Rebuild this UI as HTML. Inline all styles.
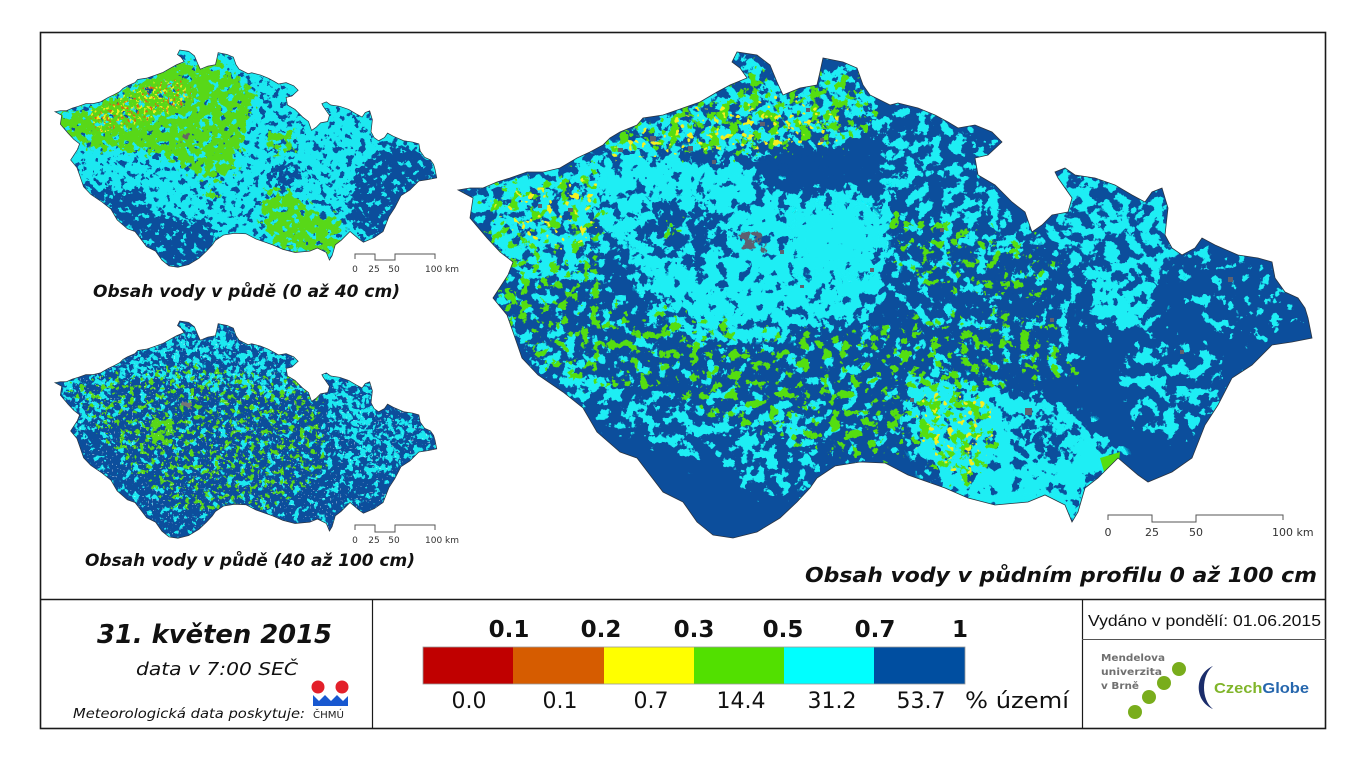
<!DOCTYPE html>
<html><head><meta charset="utf-8">
<style>html,body{margin:0;padding:0;background:#fff}svg{display:block}</style>
</head><body>
<svg xmlns="http://www.w3.org/2000/svg" width="1366" height="763" viewBox="0 0 1366 763">
<defs>
<path id="czp" d="M458,190 L470,188 483,188 497,182 510,178 527,172 543,172 560,168 577,158 590,152 603,145 610,138 620,132 637,125 643,118 663,115 683,108 700,102 717,92 730,85 747,78 740,68 732,62 737,52 757,55 770,65 777,82 783,95 800,88 817,85 820,72 823,58 843,62 857,68 863,85 870,95 890,105 898,103 918,108 935,115 948,122 958,128 975,125 992,132 1002,142 988,155 975,158 978,175 995,185 1012,202 1025,212 1032,232 1042,225 1052,215 1068,212 1072,198 1058,178 1055,172 1065,168 1075,175 1095,178 1115,185 1132,195 1145,202 1152,192 1162,188 1168,208 1165,235 1172,248 1182,255 1195,248 1202,238 1215,245 1238,255 1258,258 1272,262 1275,278 1285,292 1298,298 1305,308 1308,318 1312,338 1292,342 1272,345 1252,365 1232,378 1218,405 1205,425 1192,458 1172,472 1148,482 1138,475 1118,458 1098,478 1085,488 1078,512 1072,522 1065,505 1045,495 1028,502 995,505 968,498 945,488 908,475 885,463 860,462 835,466 817,478 810,488 797,502 780,518 757,532 733,538 713,535 697,522 683,502 663,492 637,458 620,452 597,432 583,408 563,392 538,375 522,358 513,332 507,315 493,298 508,275 513,262 500,252 487,238 470,218 473,198 Z"/>
<clipPath id="cB"><use href="#czp"/></clipPath>
<clipPath id="cT"><use href="#czp" transform="translate(55,50) scale(0.447) translate(-458,-52)"/></clipPath>
<clipPath id="cL"><use href="#czp" transform="translate(55,321) scale(0.447) translate(-458,-52)"/></clipPath>

<!-- big-map speckle filters (blurred zone + noise threshold) -->
<filter id="k15" filterUnits="userSpaceOnUse" x="440" y="40" width="890" height="510" color-interpolation-filters="sRGB"><feGaussianBlur in="SourceGraphic" stdDeviation="6" result="b"/><feComponentTransfer in="b" result="bc"><feFuncA type="linear" slope="50" intercept="0"/></feComponentTransfer><feTurbulence type="fractalNoise" baseFrequency="0.085" numOctaves="4" seed="2" result="n"/><feColorMatrix in="n" type="matrix" values="0 0 0 0 0 0 0 0 0 0 0 0 0 0 0 1 0 0 0 0" result="a"/><feComposite in="a" in2="b" operator="arithmetic" k1="0" k2="1" k3="0.3" k4="0" result="v"/><feComponentTransfer in="v" result="m"><feFuncA type="linear" slope="25" intercept="-22.35"/></feComponentTransfer><feComposite in="bc" in2="m" operator="in"/></filter>
<filter id="k20" filterUnits="userSpaceOnUse" x="440" y="40" width="890" height="510" color-interpolation-filters="sRGB"><feGaussianBlur in="SourceGraphic" stdDeviation="6" result="b"/><feComponentTransfer in="b" result="bc"><feFuncA type="linear" slope="50" intercept="0"/></feComponentTransfer><feTurbulence type="fractalNoise" baseFrequency="0.085" numOctaves="4" seed="3" result="n"/><feColorMatrix in="n" type="matrix" values="0 0 0 0 0 0 0 0 0 0 0 0 0 0 0 1 0 0 0 0" result="a"/><feComposite in="a" in2="b" operator="arithmetic" k1="0" k2="1" k3="0.3" k4="0" result="v"/><feComponentTransfer in="v" result="m"><feFuncA type="linear" slope="25" intercept="-21.8"/></feComponentTransfer><feComposite in="bc" in2="m" operator="in"/></filter>
<filter id="k40" filterUnits="userSpaceOnUse" x="440" y="40" width="890" height="510" color-interpolation-filters="sRGB"><feGaussianBlur in="SourceGraphic" stdDeviation="6" result="b"/><feComponentTransfer in="b" result="bc"><feFuncA type="linear" slope="50" intercept="0"/></feComponentTransfer><feTurbulence type="fractalNoise" baseFrequency="0.085" numOctaves="4" seed="5" result="n"/><feColorMatrix in="n" type="matrix" values="0 0 0 0 0 0 0 0 0 0 0 0 0 0 0 1 0 0 0 0" result="a"/><feComposite in="a" in2="b" operator="arithmetic" k1="0" k2="1" k3="0.3" k4="0" result="v"/><feComponentTransfer in="v" result="m"><feFuncA type="linear" slope="25" intercept="-20.2"/></feComponentTransfer><feComposite in="bc" in2="m" operator="in"/></filter>
<filter id="k55" filterUnits="userSpaceOnUse" x="440" y="40" width="890" height="510" color-interpolation-filters="sRGB"><feGaussianBlur in="SourceGraphic" stdDeviation="6" result="b"/><feComponentTransfer in="b" result="bc"><feFuncA type="linear" slope="50" intercept="0"/></feComponentTransfer><feTurbulence type="fractalNoise" baseFrequency="0.085" numOctaves="4" seed="7" result="n"/><feColorMatrix in="n" type="matrix" values="0 0 0 0 0 0 0 0 0 0 0 0 0 0 0 1 0 0 0 0" result="a"/><feComposite in="a" in2="b" operator="arithmetic" k1="0" k2="1" k3="0.3" k4="0" result="v"/><feComponentTransfer in="v" result="m"><feFuncA type="linear" slope="25" intercept="-19.15"/></feComponentTransfer><feComposite in="bc" in2="m" operator="in"/></filter>
<filter id="k70" filterUnits="userSpaceOnUse" x="440" y="40" width="890" height="510" color-interpolation-filters="sRGB"><feGaussianBlur in="SourceGraphic" stdDeviation="6" result="b"/><feComponentTransfer in="b" result="bc"><feFuncA type="linear" slope="50" intercept="0"/></feComponentTransfer><feTurbulence type="fractalNoise" baseFrequency="0.085" numOctaves="4" seed="8" result="n"/><feColorMatrix in="n" type="matrix" values="0 0 0 0 0 0 0 0 0 0 0 0 0 0 0 1 0 0 0 0" result="a"/><feComposite in="a" in2="b" operator="arithmetic" k1="0" k2="1" k3="0.3" k4="0" result="v"/><feComponentTransfer in="v" result="m"><feFuncA type="linear" slope="25" intercept="-18.05"/></feComponentTransfer><feComposite in="bc" in2="m" operator="in"/></filter>
<filter id="k85" filterUnits="userSpaceOnUse" x="440" y="40" width="890" height="510" color-interpolation-filters="sRGB"><feGaussianBlur in="SourceGraphic" stdDeviation="6" result="b"/><feComponentTransfer in="b" result="bc"><feFuncA type="linear" slope="50" intercept="0"/></feComponentTransfer><feTurbulence type="fractalNoise" baseFrequency="0.085" numOctaves="4" seed="9" result="n"/><feColorMatrix in="n" type="matrix" values="0 0 0 0 0 0 0 0 0 0 0 0 0 0 0 1 0 0 0 0" result="a"/><feComposite in="a" in2="b" operator="arithmetic" k1="0" k2="1" k3="0.3" k4="0" result="v"/><feComponentTransfer in="v" result="m"><feFuncA type="linear" slope="25" intercept="-16.65"/></feComponentTransfer><feComposite in="bc" in2="m" operator="in"/></filter>
<filter id="k92" filterUnits="userSpaceOnUse" x="440" y="40" width="890" height="510" color-interpolation-filters="sRGB"><feGaussianBlur in="SourceGraphic" stdDeviation="6" result="b"/><feComponentTransfer in="b" result="bc"><feFuncA type="linear" slope="50" intercept="0"/></feComponentTransfer><feTurbulence type="fractalNoise" baseFrequency="0.085" numOctaves="4" seed="10" result="n"/><feColorMatrix in="n" type="matrix" values="0 0 0 0 0 0 0 0 0 0 0 0 0 0 0 1 0 0 0 0" result="a"/><feComposite in="a" in2="b" operator="arithmetic" k1="0" k2="1" k3="0.3" k4="0" result="v"/><feComponentTransfer in="v" result="m"><feFuncA type="linear" slope="25" intercept="-15.65"/></feComponentTransfer><feComposite in="bc" in2="m" operator="in"/></filter>
<filter id="g15" filterUnits="userSpaceOnUse" x="440" y="40" width="890" height="510" color-interpolation-filters="sRGB"><feGaussianBlur in="SourceGraphic" stdDeviation="6" result="b"/><feComponentTransfer in="b" result="bc"><feFuncA type="linear" slope="50" intercept="0"/></feComponentTransfer><feTurbulence type="fractalNoise" baseFrequency="0.1" numOctaves="4" seed="11" result="n"/><feColorMatrix in="n" type="matrix" values="0 0 0 0 0 0 0 0 0 0 0 0 0 0 0 1 0 0 0 0" result="a"/><feComposite in="a" in2="b" operator="arithmetic" k1="0" k2="1" k3="0.3" k4="0" result="v"/><feComponentTransfer in="v" result="m"><feFuncA type="linear" slope="25" intercept="-22.35"/></feComponentTransfer><feComposite in="bc" in2="m" operator="in"/></filter>
<filter id="g25" filterUnits="userSpaceOnUse" x="440" y="40" width="890" height="510" color-interpolation-filters="sRGB"><feGaussianBlur in="SourceGraphic" stdDeviation="6" result="b"/><feComponentTransfer in="b" result="bc"><feFuncA type="linear" slope="50" intercept="0"/></feComponentTransfer><feTurbulence type="fractalNoise" baseFrequency="0.1" numOctaves="4" seed="12" result="n"/><feColorMatrix in="n" type="matrix" values="0 0 0 0 0 0 0 0 0 0 0 0 0 0 0 1 0 0 0 0" result="a"/><feComposite in="a" in2="b" operator="arithmetic" k1="0" k2="1" k3="0.3" k4="0" result="v"/><feComponentTransfer in="v" result="m"><feFuncA type="linear" slope="25" intercept="-21.35"/></feComponentTransfer><feComposite in="bc" in2="m" operator="in"/></filter>
<filter id="g55" filterUnits="userSpaceOnUse" x="440" y="40" width="890" height="510" color-interpolation-filters="sRGB"><feGaussianBlur in="SourceGraphic" stdDeviation="3" result="b"/><feComponentTransfer in="b" result="bc"><feFuncA type="linear" slope="50" intercept="0"/></feComponentTransfer><feTurbulence type="fractalNoise" baseFrequency="0.1" numOctaves="4" seed="14" result="n"/><feColorMatrix in="n" type="matrix" values="0 0 0 0 0 0 0 0 0 0 0 0 0 0 0 1 0 0 0 0" result="a"/><feComposite in="a" in2="b" operator="arithmetic" k1="0" k2="1" k3="0.3" k4="0" result="v"/><feComponentTransfer in="v" result="m"><feFuncA type="linear" slope="25" intercept="-19.15"/></feComponentTransfer><feComposite in="bc" in2="m" operator="in"/></filter>
<filter id="y5" filterUnits="userSpaceOnUse" x="440" y="40" width="890" height="510" color-interpolation-filters="sRGB"><feGaussianBlur in="SourceGraphic" stdDeviation="6" result="b"/><feComponentTransfer in="b" result="bc"><feFuncA type="linear" slope="50" intercept="0"/></feComponentTransfer><feTurbulence type="fractalNoise" baseFrequency="0.15" numOctaves="2" seed="15" result="n"/><feColorMatrix in="n" type="matrix" values="0 0 0 0 0 0 0 0 0 0 0 0 0 0 0 1 0 0 0 0" result="a"/><feComposite in="a" in2="b" operator="arithmetic" k1="0" k2="1" k3="0.3" k4="0" result="v"/><feComponentTransfer in="v" result="m"><feFuncA type="linear" slope="25" intercept="-23.6"/></feComponentTransfer><feComposite in="bc" in2="m" operator="in"/></filter>

<!-- small-map speckle filters -->
<filter id="s15" filterUnits="userSpaceOnUse" x="40" y="40" width="420" height="520" color-interpolation-filters="sRGB"><feGaussianBlur in="SourceGraphic" stdDeviation="3" result="b"/><feComponentTransfer in="b" result="bc"><feFuncA type="linear" slope="50" intercept="0"/></feComponentTransfer><feTurbulence type="fractalNoise" baseFrequency="0.15" numOctaves="3" seed="21" result="n"/><feColorMatrix in="n" type="matrix" values="0 0 0 0 0 0 0 0 0 0 0 0 0 0 0 1 0 0 0 0" result="a"/><feComposite in="a" in2="b" operator="arithmetic" k1="0" k2="1" k3="0.3" k4="0" result="v"/><feComponentTransfer in="v" result="m"><feFuncA type="linear" slope="25" intercept="-22.35"/></feComponentTransfer><feComposite in="bc" in2="m" operator="in"/></filter>
<filter id="s30" filterUnits="userSpaceOnUse" x="40" y="40" width="420" height="520" color-interpolation-filters="sRGB"><feGaussianBlur in="SourceGraphic" stdDeviation="3" result="b"/><feComponentTransfer in="b" result="bc"><feFuncA type="linear" slope="50" intercept="0"/></feComponentTransfer><feTurbulence type="fractalNoise" baseFrequency="0.15" numOctaves="3" seed="22" result="n"/><feColorMatrix in="n" type="matrix" values="0 0 0 0 0 0 0 0 0 0 0 0 0 0 0 1 0 0 0 0" result="a"/><feComposite in="a" in2="b" operator="arithmetic" k1="0" k2="1" k3="0.3" k4="0" result="v"/><feComponentTransfer in="v" result="m"><feFuncA type="linear" slope="25" intercept="-20.95"/></feComponentTransfer><feComposite in="bc" in2="m" operator="in"/></filter>
<filter id="s40" filterUnits="userSpaceOnUse" x="40" y="40" width="420" height="520" color-interpolation-filters="sRGB"><feGaussianBlur in="SourceGraphic" stdDeviation="3" result="b"/><feComponentTransfer in="b" result="bc"><feFuncA type="linear" slope="50" intercept="0"/></feComponentTransfer><feTurbulence type="fractalNoise" baseFrequency="0.15" numOctaves="3" seed="23" result="n"/><feColorMatrix in="n" type="matrix" values="0 0 0 0 0 0 0 0 0 0 0 0 0 0 0 1 0 0 0 0" result="a"/><feComposite in="a" in2="b" operator="arithmetic" k1="0" k2="1" k3="0.3" k4="0" result="v"/><feComponentTransfer in="v" result="m"><feFuncA type="linear" slope="25" intercept="-20.2"/></feComponentTransfer><feComposite in="bc" in2="m" operator="in"/></filter>
<filter id="s55" filterUnits="userSpaceOnUse" x="40" y="40" width="420" height="520" color-interpolation-filters="sRGB"><feGaussianBlur in="SourceGraphic" stdDeviation="2" result="b"/><feComponentTransfer in="b" result="bc"><feFuncA type="linear" slope="50" intercept="0"/></feComponentTransfer><feTurbulence type="fractalNoise" baseFrequency="0.15" numOctaves="3" seed="25" result="n"/><feColorMatrix in="n" type="matrix" values="0 0 0 0 0 0 0 0 0 0 0 0 0 0 0 1 0 0 0 0" result="a"/><feComposite in="a" in2="b" operator="arithmetic" k1="0" k2="1" k3="0.3" k4="0" result="v"/><feComponentTransfer in="v" result="m"><feFuncA type="linear" slope="25" intercept="-19.15"/></feComponentTransfer><feComposite in="bc" in2="m" operator="in"/></filter>
<filter id="s70" filterUnits="userSpaceOnUse" x="40" y="40" width="420" height="520" color-interpolation-filters="sRGB"><feGaussianBlur in="SourceGraphic" stdDeviation="2" result="b"/><feComponentTransfer in="b" result="bc"><feFuncA type="linear" slope="50" intercept="0"/></feComponentTransfer><feTurbulence type="fractalNoise" baseFrequency="0.15" numOctaves="3" seed="26" result="n"/><feColorMatrix in="n" type="matrix" values="0 0 0 0 0 0 0 0 0 0 0 0 0 0 0 1 0 0 0 0" result="a"/><feComposite in="a" in2="b" operator="arithmetic" k1="0" k2="1" k3="0.3" k4="0" result="v"/><feComponentTransfer in="v" result="m"><feFuncA type="linear" slope="25" intercept="-18.05"/></feComponentTransfer><feComposite in="bc" in2="m" operator="in"/></filter>
<filter id="s85" filterUnits="userSpaceOnUse" x="40" y="40" width="420" height="520" color-interpolation-filters="sRGB"><feGaussianBlur in="SourceGraphic" stdDeviation="3" result="b"/><feComponentTransfer in="b" result="bc"><feFuncA type="linear" slope="50" intercept="0"/></feComponentTransfer><feTurbulence type="fractalNoise" baseFrequency="0.15" numOctaves="3" seed="27" result="n"/><feColorMatrix in="n" type="matrix" values="0 0 0 0 0 0 0 0 0 0 0 0 0 0 0 1 0 0 0 0" result="a"/><feComposite in="a" in2="b" operator="arithmetic" k1="0" k2="1" k3="0.3" k4="0" result="v"/><feComponentTransfer in="v" result="m"><feFuncA type="linear" slope="25" intercept="-16.65"/></feComponentTransfer><feComposite in="bc" in2="m" operator="in"/></filter>
<filter id="u15" filterUnits="userSpaceOnUse" x="40" y="40" width="420" height="520" color-interpolation-filters="sRGB"><feGaussianBlur in="SourceGraphic" stdDeviation="3" result="b"/><feComponentTransfer in="b" result="bc"><feFuncA type="linear" slope="50" intercept="0"/></feComponentTransfer><feTurbulence type="fractalNoise" baseFrequency="0.2" numOctaves="3" seed="28" result="n"/><feColorMatrix in="n" type="matrix" values="0 0 0 0 0 0 0 0 0 0 0 0 0 0 0 1 0 0 0 0" result="a"/><feComposite in="a" in2="b" operator="arithmetic" k1="0" k2="1" k3="0.3" k4="0" result="v"/><feComponentTransfer in="v" result="m"><feFuncA type="linear" slope="25" intercept="-22.35"/></feComponentTransfer><feComposite in="bc" in2="m" operator="in"/></filter>
<filter id="t15" filterUnits="userSpaceOnUse" x="40" y="40" width="420" height="520" color-interpolation-filters="sRGB"><feGaussianBlur in="SourceGraphic" stdDeviation="3" result="b"/><feComponentTransfer in="b" result="bc"><feFuncA type="linear" slope="50" intercept="0"/></feComponentTransfer><feTurbulence type="fractalNoise" baseFrequency="0.3" numOctaves="2" seed="29" result="n"/><feColorMatrix in="n" type="matrix" values="0 0 0 0 0 0 0 0 0 0 0 0 0 0 0 1 0 0 0 0" result="a"/><feComposite in="a" in2="b" operator="arithmetic" k1="0" k2="1" k3="0.3" k4="0" result="v"/><feComponentTransfer in="v" result="m"><feFuncA type="linear" slope="25" intercept="-22.35"/></feComponentTransfer><feComposite in="bc" in2="m" operator="in"/></filter>
<filter id="t8" filterUnits="userSpaceOnUse" x="40" y="40" width="420" height="520" color-interpolation-filters="sRGB"><feGaussianBlur in="SourceGraphic" stdDeviation="3" result="b"/><feComponentTransfer in="b" result="bc"><feFuncA type="linear" slope="50" intercept="0"/></feComponentTransfer><feTurbulence type="fractalNoise" baseFrequency="0.3" numOctaves="2" seed="30" result="n"/><feColorMatrix in="n" type="matrix" values="0 0 0 0 0 0 0 0 0 0 0 0 0 0 0 1 0 0 0 0" result="a"/><feComposite in="a" in2="b" operator="arithmetic" k1="0" k2="1" k3="0.3" k4="0" result="v"/><feComponentTransfer in="v" result="m"><feFuncA type="linear" slope="25" intercept="-23.4"/></feComponentTransfer><feComposite in="bc" in2="m" operator="in"/></filter>
<filter id="w5" filterUnits="userSpaceOnUse" x="40" y="40" width="420" height="520" color-interpolation-filters="sRGB"><feGaussianBlur in="SourceGraphic" stdDeviation="3" result="b"/><feComponentTransfer in="b" result="bc"><feFuncA type="linear" slope="50" intercept="0"/></feComponentTransfer><feTurbulence type="fractalNoise" baseFrequency="0.5" numOctaves="1" seed="31" result="n"/><feColorMatrix in="n" type="matrix" values="0 0 0 0 0 0 0 0 0 0 0 0 0 0 0 1 0 0 0 0" result="a"/><feComposite in="a" in2="b" operator="arithmetic" k1="0" k2="1" k3="0.3" k4="0" result="v"/><feComponentTransfer in="v" result="m"><feFuncA type="linear" slope="25" intercept="-24.6"/></feComponentTransfer><feComposite in="bc" in2="m" operator="in"/></filter>
</defs>

<rect width="1366" height="763" fill="#fff"/>

<!-- ================= BIG MAP ================= -->
<g clip-path="url(#cB)">
  <rect x="440" y="40" width="890" height="510" fill="#0c4e9c"/>
  <g fill="#1eeef4">
    <polygon filter="url(#k15)" points="663,318 800,330 890,320 950,340 990,380 960,420 920,450 890,462 830,465 780,440 720,420 670,380"/>
    <polygon filter="url(#k20)" points="880,205 960,240 1040,240 1080,262 1088,330 1080,382 1000,382 940,342 890,322 885,260"/>
    <polygon filter="url(#k15)" points="1170,240 1280,255 1310,320 1260,350 1200,335 1180,290"/>
    <polygon filter="url(#k20)" points="490,255 560,268 640,268 670,300 670,380 620,392 560,388 520,362 500,310"/>
    <polygon filter="url(#k40)" points="515,335 580,358 640,388 700,398 722,430 700,462 650,445 610,432 580,408 540,382"/>
    <polygon filter="url(#k40)" points="700,405 760,402 822,418 822,470 800,500 760,500 720,470 705,440"/>
    <polygon filter="url(#k40)" points="880,98 940,112 1005,138 975,170 1000,195 1025,215 1045,235 1020,262 985,252 950,242 900,215 880,190 868,150"/>
    <polygon filter="url(#k55)" points="1050,165 1075,170 1115,182 1170,185 1170,235 1182,258 1160,282 1110,286 1070,272 1045,242 1040,210"/>
    <polygon filter="url(#k70)" points="1085,272 1152,278 1158,326 1110,334 1088,312"/>
    <polygon filter="url(#k40)" points="1118,345 1200,338 1232,370 1215,428 1170,442 1130,420"/>
    <polygon filter="url(#k55)" points="600,138 640,116 700,100 730,80 735,50 760,52 785,92 820,70 825,55 860,65 875,100 878,130 840,150 800,150 760,158 700,158 640,150 600,160"/>
    <polygon filter="url(#k70)" points="460,185 510,176 560,166 600,152 606,200 606,250 590,275 540,282 505,272 487,238 468,212"/>
    <polygon filter="url(#k85)" points="597,158 640,150 700,160 750,165 765,185 800,195 840,188 885,195 892,240 885,290 870,318 820,322 783,330 750,330 700,320 660,300 640,275 630,255 605,235 598,205"/>
    <polygon filter="url(#k55)" points="657,272 720,290 783,300 800,330 780,348 720,348 670,340 650,310"/>
    <polygon filter="url(#k92)" points="912,378 960,383 1000,393 1060,408 1100,438 1120,462 1100,480 1085,500 1075,525 1060,508 1028,505 995,508 960,498 930,472 912,430"/>
    <ellipse cx="835" cy="240" rx="42" ry="32" filter="url(#k92)"/>
  </g>
  <g fill="#0c4e9c">
    <polygon filter="url(#k70)" points="637,205 680,198 723,208 730,250 700,264 660,260 638,240"/>
    <polygon filter="url(#k55)" points="760,158 800,150 835,158 842,190 800,200 765,190"/>
    <polygon filter="url(#k55)" points="1012,418 1050,412 1075,438 1068,465 1030,465 1015,445"/>
    <polygon filter="url(#k70)" points="985,250 1030,250 1040,345 995,345"/>
  </g>
  <g fill="#55de10">
    <polygon filter="url(#g25)" points="600,138 640,116 700,100 730,80 760,60 785,92 820,70 860,65 875,100 878,130 840,150 800,150 760,158 700,158 640,150 600,160"/>
    <polygon filter="url(#g15)" points="470,190 600,160 610,300 660,320 670,390 560,390 510,330 490,260"/>
    <polygon filter="url(#g15)" points="640,300 800,330 890,320 1000,300 1080,330 1080,380 990,390 960,420 920,455 830,468 780,440 700,420 650,390"/>
    <polygon filter="url(#g15)" points="880,205 1000,230 1060,250 1050,300 960,300 900,280"/>
    <polygon filter="url(#g25)" points="918,385 990,395 1000,440 970,495 930,470 912,430"/>
    <polygon filter="url(#g55)" points="495,285 512,280 520,330 508,332"/>
    <ellipse cx="673" cy="228" rx="10" ry="9" filter="url(#g55)"/>
    <ellipse cx="675" cy="326" rx="9" ry="8" filter="url(#g55)"/>
    <ellipse cx="594" cy="272" rx="7" ry="6" filter="url(#g55)"/>
    <polygon points="1100,458 1120,452 1118,470 1105,475"/>
  </g>
  <g fill="#f4f020">
    <polygon filter="url(#y5)" points="600,138 700,100 800,95 860,110 840,150 700,158 600,165"/>
    <polygon filter="url(#y5)" points="480,195 600,165 600,250 520,250"/>
    <polygon filter="url(#y5)" points="918,385 990,395 1000,440 970,495 930,470 912,430"/>
  </g>
  <g fill="#5e6070">
    <ellipse cx="752" cy="242" rx="15" ry="12" filter="url(#g55)"/>
    <rect x="618" y="148" width="5" height="4"/><rect x="650" y="136" width="6" height="5"/>
    <rect x="688" y="146" width="5" height="5"/><rect x="712" y="160" width="4" height="4"/>
    <rect x="760" y="122" width="5" height="4"/><rect x="806" y="108" width="4" height="4"/>
    <rect x="568" y="208" width="5" height="4"/><rect x="538" y="204" width="4" height="4"/>
    <rect x="940" y="228" width="4" height="4"/><rect x="1025" y="408" width="7" height="7"/>
    <rect x="1228" y="277" width="5" height="5"/><rect x="1050" y="318" width="4" height="4"/>
    <rect x="1180" y="350" width="4" height="4"/><rect x="870" y="268" width="4" height="4"/>
    <rect x="820" y="138" width="4" height="4"/><rect x="910" y="398" width="4" height="4"/>
    <rect x="780" y="250" width="4" height="4"/><rect x="800" y="285" width="4" height="3"/>
  </g>
</g>
<use href="#czp" fill="none" stroke="#2a3340" stroke-width="0.8"/>

<!-- ================= TOP SMALL MAP (0-40 cm) ================= -->
<g clip-path="url(#cT)">
  <rect x="45" y="45" width="400" height="230" fill="#1ce8f0"/>
  <rect x="45" y="45" width="400" height="230" fill="#0c4e9c" filter="url(#s15)"/>
  <g fill="#58d818">
    <polygon filter="url(#s85)" points="58,115 90,109 123,92 157,72 180,62 200,65 220,59 230,72 247,82 253,99 247,125 240,149 233,172 213,179 193,172 173,159 150,152 123,149 97,149 77,142 63,129"/>
    <polygon filter="url(#s85)" points="267,192 293,195 313,212 340,219 340,245 327,255 293,252 270,239 263,219"/>
    <polygon filter="url(#s70)" points="267,132 293,132 293,152 267,152"/>
    <polygon filter="url(#s55)" points="200,188 220,188 220,200 200,200"/>
  </g>
  <g fill="#f0ef20"><polygon filter="url(#t15)" points="85,112 120,95 160,78 190,80 195,100 170,115 130,128 95,135"/></g>
  <g fill="#e06010"><polygon filter="url(#t8)" points="85,112 120,95 160,78 190,80 195,100 170,115 130,128 95,135"/></g>
  <g fill="#0c4e9c">
    <polygon filter="url(#s85)" points="83,182 117,192 140,189 150,212 180,219 207,219 217,239 207,262 180,269 160,262 140,239 113,219 93,202"/>
    <polygon filter="url(#s85)" points="357,172 390,142 417,149 440,175 427,199 407,205 393,232 367,239 347,219 353,192"/>
    <polygon filter="url(#s70)" points="270,162 303,165 300,189 272,186"/>
  </g>
  <circle cx="187" cy="137" r="6" fill="#666" filter="url(#s55)"/>
</g>
<use href="#czp" transform="translate(55,50) scale(0.447) translate(-458,-52)" fill="none" stroke="#2a3340" stroke-width="1.6"/>

<!-- ================= BOTTOM SMALL MAP (40-100 cm) ================= -->
<g clip-path="url(#cL)">
  <rect x="45" y="315" width="400" height="235" fill="#0c4e9c"/>
  <g fill="#1ce8f0">
    <rect x="45" y="315" width="400" height="235" filter="url(#s15)"/>
    <polygon filter="url(#s30)" points="100,345 150,330 200,320 260,330 330,340 340,380 300,400 250,395 200,390 150,385 100,385"/>
    <polygon filter="url(#s40)" points="320,375 345,370 373,385 380,420 360,430 330,420"/>
    <polygon filter="url(#s30)" points="330,420 420,410 438,440 410,470 360,480 330,460"/>
    <polygon filter="url(#s30)" points="55,380 110,375 115,420 80,435 60,410"/>
  </g>
  <g fill="#58d818">
    <polygon filter="url(#u15)" points="60,380 200,360 320,380 330,470 260,520 170,510 110,450"/>
    <polygon filter="url(#s70)" points="147,420 173,418 172,443 150,445"/>
  </g>
  <rect x="45" y="315" width="400" height="235" fill="#ffffff" filter="url(#w5)"/>
  <circle cx="187" cy="405" r="6" fill="#777" filter="url(#s55)"/>
</g>
<use href="#czp" transform="translate(55,321) scale(0.447) translate(-458,-52)" fill="none" stroke="#2a3340" stroke-width="1.6"/>

<!-- scale bars -->
<g fill="none" stroke="#555" stroke-width="1">
  <path d="M1108,520 V515 H1152 V522 H1196 V515 H1283 V520"/>
  <path d="M355,259 V254 H375 V260 H395 V254 H435 V259"/>
  <path d="M355,530 V525 H375 V532 H395 V525 H435 V530"/>
</g>
<g font-family="'DejaVu Sans','Liberation Sans',sans-serif" fill="#333">
  <g font-size="11" text-anchor="middle"><text x="1108" y="536">0</text><text x="1152" y="536">25</text><text x="1196" y="536">50</text></g>
  <text x="1272" y="536" font-size="11">100 km</text>
  <g font-size="9" text-anchor="middle"><text x="355" y="272">0</text><text x="374" y="272">25</text><text x="394" y="272">50</text>
  <text x="355" y="543">0</text><text x="374" y="543">25</text><text x="394" y="543">50</text></g>
  <text x="425" y="272" font-size="9">100 km</text>
  <text x="425" y="543" font-size="9">100 km</text>
</g>

<!-- map captions -->
<g font-family="'DejaVu Sans','Liberation Sans',sans-serif" font-weight="bold" font-style="italic" fill="#111">
  <text x="93" y="297" font-size="17" textLength="307" lengthAdjust="spacingAndGlyphs">Obsah vody v půdě (0 až 40 cm)</text>
  <text x="85" y="566" font-size="17" textLength="330" lengthAdjust="spacingAndGlyphs">Obsah vody v půdě (40 až 100 cm)</text>
  <text x="805" y="582" font-size="20" textLength="512" lengthAdjust="spacingAndGlyphs">Obsah vody v půdním profilu 0 až 100 cm</text>
</g>

<!-- frame -->
<g stroke="#1a1a1a" fill="none">
  <rect x="40.5" y="32.5" width="1285" height="696" stroke-width="1.6"/>
  <line x1="40" y1="599.5" x2="1326" y2="599.5" stroke-width="1.6"/>
  <line x1="372.5" y1="599" x2="372.5" y2="729" stroke-width="1.2"/>
  <line x1="1082.5" y1="599" x2="1082.5" y2="729" stroke-width="1.2"/>
  <line x1="1082" y1="639.5" x2="1326" y2="639.5" stroke="#555" stroke-width="1"/>
</g>

<!-- left cell -->
<g font-family="'DejaVu Sans','Liberation Sans',sans-serif" font-style="italic" fill="#111">
  <text x="97" y="643" font-size="26" font-weight="bold" textLength="235" lengthAdjust="spacingAndGlyphs">31. květen 2015</text>
  <text x="136" y="675" font-size="18" textLength="162" lengthAdjust="spacingAndGlyphs">data v 7:00 SEČ</text>
  <text x="73" y="718" font-size="13.5" textLength="232" lengthAdjust="spacingAndGlyphs">Meteorologická data poskytuje:</text>
</g>
<text x="313" y="718" font-family="'DejaVu Sans','Liberation Sans',sans-serif" font-size="9.5" fill="#222" textLength="31" lengthAdjust="spacingAndGlyphs">ČHMÚ</text>
<circle cx="318" cy="687" r="6.5" fill="#e3202a"/>
<circle cx="342" cy="687" r="6.5" fill="#e3202a"/>
<path d="M313,695 L319,701 L325,695 L331,701 L337,695 L343,701 L348,696 V706 H313 Z" fill="#1858d0"/>

<!-- legend -->
<g stroke="none">
  <rect x="423" y="647" width="90" height="37" fill="#c00000"/>
  <rect x="513" y="647" width="91" height="37" fill="#d65c00"/>
  <rect x="604" y="647" width="90" height="37" fill="#ffff00"/>
  <rect x="694" y="647" width="90" height="37" fill="#52e000"/>
  <rect x="784" y="647" width="90" height="37" fill="#00ffff"/>
  <rect x="874" y="647" width="91" height="37" fill="#004ea0"/>
</g>
<rect x="423" y="647" width="542" height="37" fill="none" stroke="#999" stroke-width="0.8"/>
<g font-family="'DejaVu Sans','Liberation Sans',sans-serif" font-weight="bold" font-size="23" fill="#111" text-anchor="middle">
  <text x="509" y="637">0.1</text><text x="601" y="637">0.2</text><text x="694" y="637">0.3</text>
  <text x="783" y="637">0.5</text><text x="875" y="637">0.7</text><text x="960" y="637">1</text>
</g>
<g font-family="'DejaVu Sans','Liberation Sans',sans-serif" font-size="22" fill="#111" text-anchor="middle">
  <text x="469" y="708">0.0</text><text x="560" y="708">0.1</text><text x="651" y="708">0.7</text>
  <text x="741" y="708">14.4</text><text x="832" y="708">31.2</text><text x="921" y="708">53.7</text>
</g>
<text x="965" y="708" font-family="'DejaVu Sans','Liberation Sans',sans-serif" font-size="22" fill="#111" textLength="104" lengthAdjust="spacingAndGlyphs">% území</text>

<!-- right cell -->
<text x="1088" y="626" font-family="'Liberation Sans',sans-serif" font-size="16" fill="#111" textLength="233" lengthAdjust="spacingAndGlyphs">Vydáno v pondělí: 01.06.2015</text>
<g font-family="'DejaVu Sans','Liberation Sans',sans-serif" font-size="10" font-weight="bold" fill="#707070">
  <text x="1101" y="661" textLength="64" lengthAdjust="spacingAndGlyphs">Mendelova</text>
  <text x="1101" y="675" textLength="61" lengthAdjust="spacingAndGlyphs">univerzita</text>
  <text x="1101" y="689" textLength="38" lengthAdjust="spacingAndGlyphs">v Brně</text>
</g>
<g fill="#79ad1c">
  <circle cx="1179" cy="669" r="7"/><circle cx="1164" cy="683" r="7"/>
  <circle cx="1149" cy="697" r="7"/><circle cx="1135" cy="712" r="7"/>
</g>
<path d="M1213,666 C1194,674 1194,701 1213,709 C1201,700 1201,675 1213,666 Z" fill="#1b2d6b"/>
<text x="1214" y="693" font-family="'Liberation Sans',sans-serif" font-size="15" font-weight="bold" textLength="95" lengthAdjust="spacingAndGlyphs"><tspan fill="#80b52a">Czech</tspan><tspan fill="#2566ad">Globe</tspan></text>
</svg>
</body></html>
